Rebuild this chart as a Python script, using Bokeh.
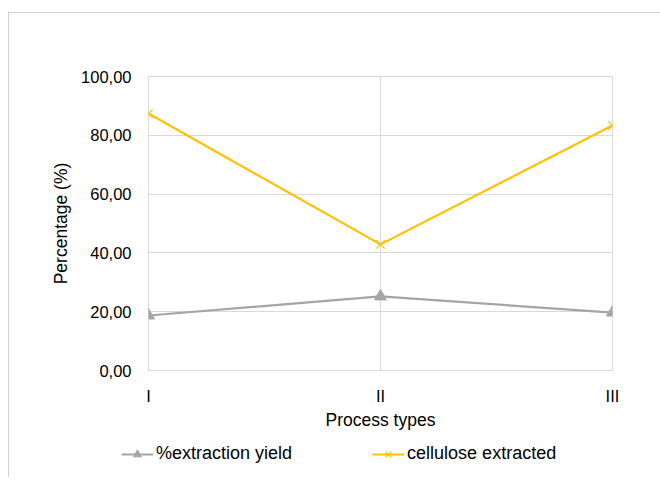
from bokeh.plotting import figure
from bokeh.models import Legend, LegendItem, FixedTicker, Range1d
from bokeh.layouts import column
from bokeh.embed import file_html
from bokeh.resources import INLINE

categories = ["I", "II", "III"]
extraction_yield = [18.7, 25.2, 19.7]
cellulose_extracted = [87.4, 42.9, 83.3]
y_ticks = [0, 20, 40, 60, 80, 100]
y_tick_labels = ["0,00", "20,00", "40,00", "60,00", "80,00", "100,00"]
series_names = ["%extraction yield", "cellulose extracted"]

FONT = "Liberation Sans"
GRID = "#d9d9d9"
C_YIELD = "#a5a5a5"
C_CELL = "#ffc000"

xs = list(range(len(categories)))

p = figure(width=652, height=428, output_backend="svg", toolbar_location=None,
           x_range=Range1d(0, len(categories) - 1), y_range=Range1d(0, 100),
           min_border_left=139, min_border_right=49, min_border_top=63,
           min_border_bottom=71)
p.outline_line_color = GRID
p.background_fill_color = "white"
p.border_fill_color = "white"

p.line(xs, extraction_yield, line_color=C_YIELD, line_width=2.2)
p.scatter(xs, extraction_yield, marker="triangle", size=12,
          fill_color=C_YIELD, line_color=C_YIELD)
p.line(xs, cellulose_extracted, line_color=C_CELL, line_width=2.2)
p.scatter(xs, cellulose_extracted, marker="x", size=12,
          line_color=C_CELL, line_width=1.2)

p.xaxis.ticker = FixedTicker(ticks=xs)
p.xaxis.major_label_overrides = {i: c for i, c in enumerate(categories)}
p.yaxis.ticker = FixedTicker(ticks=y_ticks)
p.yaxis.major_label_overrides = {t: l for t, l in zip(y_ticks, y_tick_labels)}

for ax in (p.xaxis, p.yaxis):
    ax.axis_line_color = None
    ax.major_tick_line_color = None
    ax.minor_tick_line_color = None
    ax.major_label_text_font = FONT
    ax.major_label_text_font_size = "16.5px"
    ax.major_label_text_color = "#000000"
    ax.axis_label_text_font = FONT
    ax.axis_label_text_font_size = "17.5px"
    ax.axis_label_text_font_style = "normal"
    ax.axis_label_text_color = "#000000"

p.xaxis.axis_label = "Process types"
p.yaxis.axis_label = "Percentage (%)"
p.xaxis.major_label_standoff = 10
p.yaxis.major_label_standoff = 11
p.xaxis.axis_label_standoff = 2
p.yaxis.axis_label_standoff = 7

p.xgrid.grid_line_color = GRID
p.ygrid.grid_line_color = GRID
p.xgrid.ticker = FixedTicker(ticks=xs)
p.ygrid.ticker = FixedTicker(ticks=y_ticks)

# legend strip: the same series, drawn out of its visible range (only the legend shows)
q = figure(width=652, height=36, output_backend="svg", toolbar_location=None,
           x_range=Range1d(100, 101), y_range=Range1d(1000, 1001),
           x_axis_location=None, y_axis_location=None,
           min_border_left=0, min_border_right=0, min_border_top=0,
           min_border_bottom=0)
q.frame_align = False
q.outline_line_color = None
q.grid.visible = False
q.border_fill_color = "white"
q.background_fill_color = "white"
ql1 = q.line(xs, extraction_yield, line_color=C_YIELD, line_width=2.2)
qm1 = q.scatter(xs, extraction_yield, marker="triangle", size=12,
                fill_color=C_YIELD, line_color=C_YIELD)
ql2 = q.line(xs, cellulose_extracted, line_color=C_CELL, line_width=2.2)
qm2 = q.scatter(xs, cellulose_extracted, marker="x", size=12,
                line_color=C_CELL, line_width=1.2)

legend = Legend(items=[
    LegendItem(label=series_names[0], renderers=[ql1, qm1]),
    LegendItem(label=series_names[1], renderers=[ql2, qm2]),
], orientation="horizontal", location=(112, 13), spacing=80,
    label_text_font=FONT, label_text_font_size="18px", label_text_color="#000000",
    border_line_color=None, background_fill_alpha=0, glyph_width=32,
    label_standoff=3, padding=0, margin=0)
q.add_layout(legend, "center")

layout = column(p, q, spacing=0,
                styles={"border-left": "1px solid #d0d0d0", "border-top": "1px solid #d0d0d0",
                        "margin-top": "12px", "margin-left": "8px"})

open("out.html", "w").write(file_html(layout, INLINE))
